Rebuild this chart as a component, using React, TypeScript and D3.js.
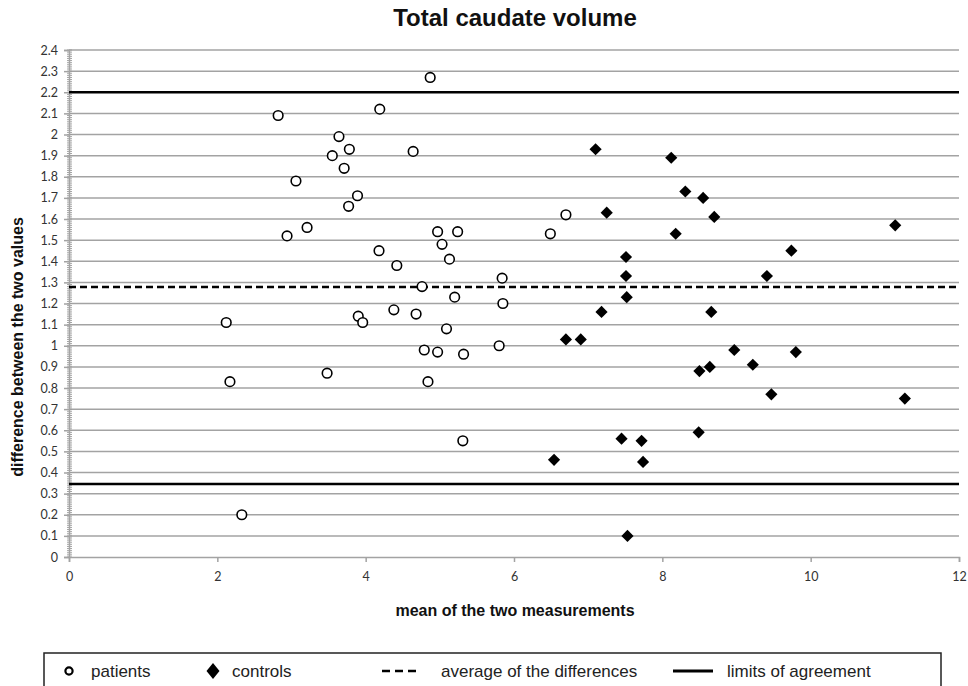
import React, { useRef, useEffect } from 'react';
import * as d3 from 'd3';

// patients (open circles)
const patientsMean = [4.87, 4.19, 2.82, 3.64, 3.78, 3.55, 4.64, 3.71, 3.06, 3.89, 3.77, 3.21, 2.94, 4.97, 5.24, 5.03, 4.18, 5.13, 4.42, 4.76,
  5.2, 4.38, 4.68, 2.12, 3.9, 3.96, 5.85, 5.09, 4.79, 4.97, 5.32, 5.8, 2.17, 3.48, 4.84, 5.31, 2.33, 6.7, 6.49, 5.84];
const patientsDiff = [2.27, 2.12, 2.09, 1.99, 1.93, 1.9, 1.92, 1.84, 1.78, 1.71, 1.66, 1.56, 1.52, 1.54, 1.54, 1.48, 1.45, 1.41, 1.38, 1.28,
  1.23, 1.17, 1.15, 1.11, 1.14, 1.11, 1.2, 1.08, 0.98, 0.97, 0.96, 1.0, 0.83, 0.87, 0.83, 0.55, 0.2, 1.62, 1.53, 1.32];

// controls (filled diamonds)
const controlsMean = [7.1, 8.12, 8.31, 8.55, 7.25, 8.7, 11.14, 8.18, 9.74, 7.51, 7.51, 9.41, 7.52, 7.18, 8.66, 6.7, 6.9, 8.97, 9.8, 9.22,
  8.5, 8.64, 9.47, 11.27, 8.49, 7.45, 7.72, 6.54, 7.74, 7.53];
const controlsDiff = [1.93, 1.89, 1.73, 1.7, 1.63, 1.61, 1.57, 1.53, 1.45, 1.42, 1.33, 1.33, 1.23, 1.16, 1.16, 1.03, 1.03, 0.98, 0.97, 0.91,
  0.88, 0.9, 0.77, 0.75, 0.59, 0.56, 0.55, 0.46, 0.45, 0.1];

const meanDiff = 1.278;
const limits = [2.2, 0.345];

const xTicks = [0, 2, 4, 6, 8, 10, 12];
const yTicks = [0, 0.1, 0.2, 0.3, 0.4, 0.5, 0.6, 0.7, 0.8, 0.9, 1, 1.1, 1.2, 1.3, 1.4, 1.5, 1.6, 1.7, 1.8, 1.9, 2, 2.1, 2.2, 2.3, 2.4];

const legendItems = ['patients', 'controls', 'average of the differences', 'limits of agreement'];

const W = 968, H = 686;

const BlandAltman = () => {
  const ref = useRef<SVGSVGElement>(null);

  useEffect(() => {
    const svg = d3.select(ref.current);
    svg.selectAll('*').remove();

    const x = d3.scaleLinear().domain([0, 12]).range([69, 959]);
    const y = d3.scaleLinear().domain([0, 2.4]).range([557, 50]);
    const grid = '#a3a3a3';
    const sans = '"Liberation Sans", Arial, sans-serif';

    // title
    svg.append('text').attr('x', 515).attr('y', 26).attr('text-anchor', 'middle')
      .style('font-family', sans).style('font-weight', 'bold').style('font-size', '24px').attr('fill', '#111')
      .text('Total caudate volume');

    // horizontal grid
    svg.append('g').selectAll('line').data(yTicks.slice(1)).join('line')
      .attr('x1', x(0)).attr('x2', x(12))
      .attr('y1', d => y(d)).attr('y2', d => y(d))
      .attr('stroke', grid).attr('stroke-width', 1.5);

    // y axis, with the dense minor ticks
    const minor = d3.range(0, 241).map(i => i / 100);
    svg.append('g').selectAll('line').data(minor).join('line')
      .attr('x1', x(0) - 2).attr('x2', x(0) + 3)
      .attr('y1', d => y(d)).attr('y2', d => y(d))
      .attr('stroke', '#999').attr('stroke-width', 0.9);

    const yAxis = svg.append('g').attr('transform', `translate(${x(0)},0)`)
      .call(d3.axisLeft(y).tickValues(yTicks).tickSize(5).tickPadding(6).tickFormat(d => String(d)));
    yAxis.select('.domain').attr('stroke', grid).attr('stroke-width', 1.5);
    yAxis.selectAll('.tick line').attr('stroke', grid).attr('stroke-width', 1.5);
    yAxis.selectAll('.tick text').attr('fill', '#333')
      .style('font-family', 'Lato, "Open Sans", sans-serif').style('font-size', '12.5px');

    // x axis
    const xAxis = svg.append('g').attr('transform', `translate(0,${y(0)})`)
      .call(d3.axisBottom(x).tickValues(xTicks).tickSize(5).tickPadding(10).tickFormat(d => String(d)));
    xAxis.select('.domain').attr('stroke', grid).attr('stroke-width', 1.5);
    xAxis.selectAll('.tick line').attr('stroke', grid).attr('stroke-width', 1.5);
    xAxis.selectAll('.tick text').attr('fill', '#333')
      .style('font-family', 'Lato, "Open Sans", sans-serif').style('font-size', '12.5px');

    // axis titles
    svg.append('text').attr('x', 515).attr('y', 616).attr('text-anchor', 'middle')
      .style('font-family', sans).style('font-weight', 'bold').style('font-size', '16px').attr('fill', '#111')
      .text('mean of the two measurements');
    svg.append('text').attr('transform', 'translate(23,347) rotate(-90)').attr('text-anchor', 'middle')
      .style('font-family', sans).style('font-weight', 'bold').style('font-size', '16px').attr('fill', '#111')
      .text('difference between the two values');

    // limits of agreement and mean difference
    svg.append('g').selectAll('line').data(limits).join('line')
      .attr('x1', x(0)).attr('x2', x(12))
      .attr('y1', d => y(d)).attr('y2', d => y(d))
      .attr('stroke', '#000').attr('stroke-width', 2.5);
    svg.append('line')
      .attr('x1', x(0)).attr('x2', x(12))
      .attr('y1', y(meanDiff)).attr('y2', y(meanDiff))
      .attr('stroke', '#000').attr('stroke-width', 2.5).attr('stroke-dasharray', '7,4');

    // points
    const diamond = d3.symbol().type(d3.symbolSquare).size(74);
    svg.append('g').selectAll('path').data(controlsMean).join('path')
      .attr('d', diamond)
      .attr('transform', (d, i) => `translate(${x(d)},${y(controlsDiff[i])}) rotate(45)`)
      .attr('fill', '#000');

    svg.append('g').selectAll('circle').data(patientsMean).join('circle')
      .attr('cx', d => x(d)).attr('cy', (d, i) => y(patientsDiff[i]))
      .attr('r', 4.8).attr('fill', '#fff').attr('stroke', '#000').attr('stroke-width', 1.6);

    // legend
    const lg = svg.append('g');
    lg.append('rect').attr('x', 44).attr('y', 653).attr('width', 897).attr('height', 60)
      .attr('fill', '#fff').attr('stroke', '#222').attr('stroke-width', 1.5);
    lg.append('circle').attr('cx', 69).attr('cy', 671).attr('r', 3.6)
      .attr('fill', 'none').attr('stroke', '#000').attr('stroke-width', 2.2);
    lg.append('path').attr('d', 'M213,663 L219.5,671 L213,679 L206.5,671 Z').attr('fill', '#000');
    lg.append('line').attr('x1', 382).attr('x2', 421).attr('y1', 671).attr('y2', 671)
      .attr('stroke', '#000').attr('stroke-width', 2.5).attr('stroke-dasharray', '8,5');
    lg.append('line').attr('x1', 673).attr('x2', 713).attr('y1', 671).attr('y2', 671)
      .attr('stroke', '#000').attr('stroke-width', 3);
    const lx = [91, 232, 441, 727];
    lg.selectAll('text.item').data(legendItems).join('text').attr('class', 'item')
      .attr('x', (d, i) => lx[i]).attr('y', 677)
      .style('font-family', sans).style('font-size', '17px').attr('fill', '#222')
      .text(d => d);
  }, []);

  return <svg ref={ref} width={W} height={H} style={{ position: 'absolute', left: 0, top: 0, background: '#fff' }} />;
};

export default function App() {
  return <BlandAltman />;
}
